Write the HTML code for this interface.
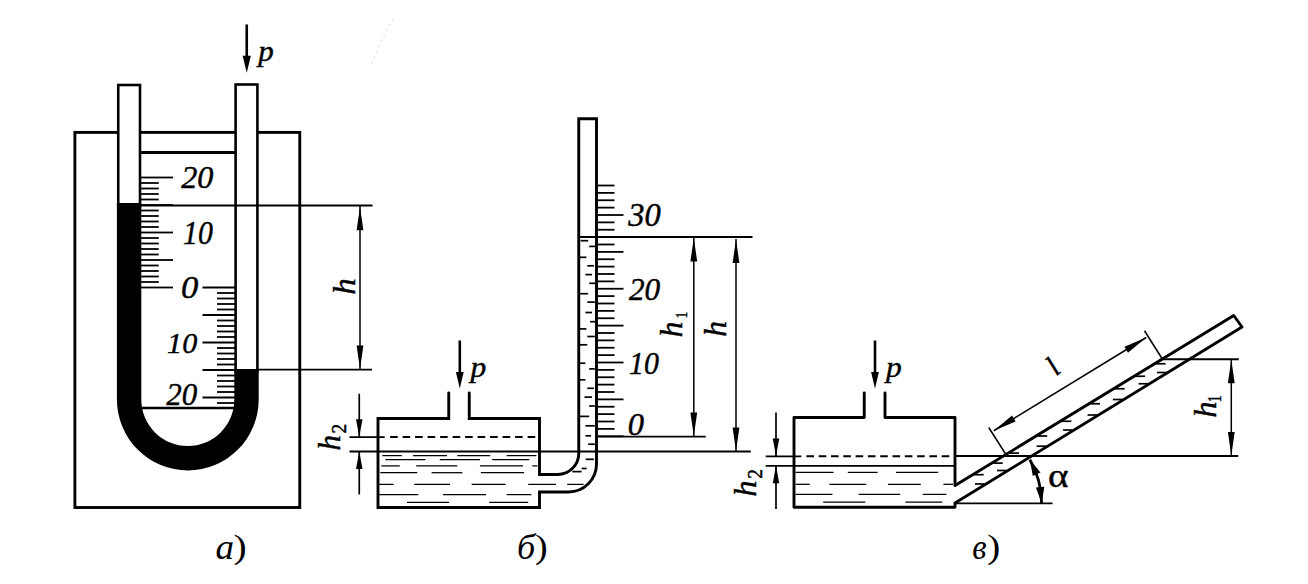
<!DOCTYPE html>
<html><head><meta charset="utf-8"><style>
html,body{margin:0;padding:0;background:#fff;}
svg{display:block;}
text{font-family:"Liberation Serif",serif;fill:#000;stroke:#000;stroke-width:0.45px;}
</style></head><body>
<svg width="1308" height="584" viewBox="0 0 1308 584" stroke="#000" fill="none">
<rect x="0" y="0" width="1308" height="584" fill="#fff" stroke="none"/>
<rect x="74.9" y="132.4" width="224.85" height="375.1" fill="none" stroke-width="2.9"/>
<line x1="141.00" y1="152.50" x2="235.00" y2="152.50" stroke-width="2.9" />
<line x1="141.00" y1="408.00" x2="234.00" y2="408.00" stroke-width="2.4" />
<line x1="141.00" y1="177.50" x2="173.00" y2="177.50" stroke-width="1.8" />
<line x1="141.00" y1="183.00" x2="158.75" y2="183.00" stroke-width="1.8" />
<line x1="141.00" y1="188.50" x2="158.75" y2="188.50" stroke-width="1.8" />
<line x1="141.00" y1="194.00" x2="158.75" y2="194.00" stroke-width="1.8" />
<line x1="141.00" y1="199.50" x2="158.75" y2="199.50" stroke-width="1.8" />
<line x1="141.00" y1="205.00" x2="173.00" y2="205.00" stroke-width="1.8" />
<line x1="141.00" y1="210.50" x2="158.75" y2="210.50" stroke-width="1.8" />
<line x1="141.00" y1="216.00" x2="158.75" y2="216.00" stroke-width="1.8" />
<line x1="141.00" y1="221.50" x2="158.75" y2="221.50" stroke-width="1.8" />
<line x1="141.00" y1="227.00" x2="158.75" y2="227.00" stroke-width="1.8" />
<line x1="141.00" y1="232.50" x2="173.00" y2="232.50" stroke-width="1.8" />
<line x1="141.00" y1="238.00" x2="158.75" y2="238.00" stroke-width="1.8" />
<line x1="141.00" y1="243.50" x2="158.75" y2="243.50" stroke-width="1.8" />
<line x1="141.00" y1="249.00" x2="158.75" y2="249.00" stroke-width="1.8" />
<line x1="141.00" y1="254.50" x2="158.75" y2="254.50" stroke-width="1.8" />
<line x1="141.00" y1="260.00" x2="173.00" y2="260.00" stroke-width="1.8" />
<line x1="141.00" y1="265.50" x2="158.75" y2="265.50" stroke-width="1.8" />
<line x1="141.00" y1="271.00" x2="158.75" y2="271.00" stroke-width="1.8" />
<line x1="141.00" y1="276.50" x2="158.75" y2="276.50" stroke-width="1.8" />
<line x1="141.00" y1="282.00" x2="158.75" y2="282.00" stroke-width="1.8" />
<line x1="141.00" y1="287.50" x2="173.00" y2="287.50" stroke-width="1.8" />
<line x1="202.50" y1="287.50" x2="236.00" y2="287.50" stroke-width="1.8" />
<line x1="217.00" y1="293.00" x2="236.00" y2="293.00" stroke-width="1.8" />
<line x1="217.00" y1="298.50" x2="236.00" y2="298.50" stroke-width="1.8" />
<line x1="217.00" y1="304.00" x2="236.00" y2="304.00" stroke-width="1.8" />
<line x1="217.00" y1="309.50" x2="236.00" y2="309.50" stroke-width="1.8" />
<line x1="202.50" y1="315.00" x2="236.00" y2="315.00" stroke-width="1.8" />
<line x1="217.00" y1="320.50" x2="236.00" y2="320.50" stroke-width="1.8" />
<line x1="217.00" y1="326.00" x2="236.00" y2="326.00" stroke-width="1.8" />
<line x1="217.00" y1="331.50" x2="236.00" y2="331.50" stroke-width="1.8" />
<line x1="217.00" y1="337.00" x2="236.00" y2="337.00" stroke-width="1.8" />
<line x1="202.50" y1="342.50" x2="236.00" y2="342.50" stroke-width="1.8" />
<line x1="217.00" y1="348.00" x2="236.00" y2="348.00" stroke-width="1.8" />
<line x1="217.00" y1="353.50" x2="236.00" y2="353.50" stroke-width="1.8" />
<line x1="217.00" y1="359.00" x2="236.00" y2="359.00" stroke-width="1.8" />
<line x1="217.00" y1="364.50" x2="236.00" y2="364.50" stroke-width="1.8" />
<line x1="202.50" y1="370.00" x2="236.00" y2="370.00" stroke-width="1.8" />
<line x1="217.00" y1="375.50" x2="236.00" y2="375.50" stroke-width="1.8" />
<line x1="217.00" y1="381.00" x2="236.00" y2="381.00" stroke-width="1.8" />
<line x1="217.00" y1="386.50" x2="236.00" y2="386.50" stroke-width="1.8" />
<line x1="217.00" y1="392.00" x2="236.00" y2="392.00" stroke-width="1.8" />
<line x1="202.50" y1="397.50" x2="236.00" y2="397.50" stroke-width="1.8" />
<line x1="217.00" y1="403.00" x2="236.00" y2="403.00" stroke-width="1.8" />
<rect x="118.25" y="85" width="21.75" height="121" fill="#fff" stroke-width="2.6"/>
<rect x="235.6" y="84.5" width="21.8" height="287" fill="#fff" stroke-width="2.6"/>
<path d="M116.9 203 L141.3 203 L141.3 399.5 A46.5 46.5 0 0 0 234.3 399.5 L234.3 369 L258.70000000000005 369 L258.70000000000005 399.5 A70.9 70.9 0 0 1 116.9 399.5 Z" fill="#000" stroke="none"/>
<line x1="141.00" y1="205.50" x2="372.50" y2="205.50" stroke-width="1.8" />
<line x1="258.00" y1="369.60" x2="372.00" y2="369.60" stroke-width="1.8" />
<line x1="360.00" y1="205.00" x2="360.00" y2="369.50" stroke-width="1.5" />
<path d="M360.00 206.80 L363.40 230.30 L356.60 230.30 Z" fill="#000" stroke="none"/>
<path d="M360.00 369.00 L356.60 345.50 L363.40 345.50 Z" fill="#000" stroke="none"/>
<line x1="246.75" y1="24.50" x2="246.75" y2="60.00" stroke-width="2.6" />
<path d="M246.75 72.80 L242.65 55.80 L250.85 55.80 Z" fill="#000" stroke="none"/>
<path d="M448.75 393 L448.75 418.5 L378 418.5 L378 507.5 L539.5 507.5 L539.5 492 L568.5 492 A28 28 0 0 0 596.5 464 L596.5 118.75 L578.75 118.75 L578.75 453.5 A21 21 0 0 1 557.75 474.5 L539.5 474.5 L539.5 418.5 L469.25 418.5 L469.25 393" fill="none" stroke-width="2.9" stroke-linejoin="miter" stroke-linecap="round"/>
<line x1="459.80" y1="340.50" x2="459.80" y2="375.00" stroke-width="2.6" />
<path d="M459.80 388.50 L455.90 372.00 L463.70 372.00 Z" fill="#000" stroke="none"/>
<line x1="349.50" y1="437.10" x2="384.70" y2="437.10" stroke-width="1.8" />
<line x1="390.10" y1="437.10" x2="535.40" y2="437.10" stroke-width="2.0" stroke-dasharray="7.6 4.9"/>
<line x1="349.50" y1="451.50" x2="750.75" y2="451.50" stroke-width="1.8" />
<line x1="359.25" y1="393.75" x2="359.25" y2="436.75" stroke-width="1.7" />
<path d="M359.25 436.75 L356.00 419.25 L362.50 419.25 Z" fill="#000" stroke="none"/>
<line x1="359.25" y1="451.50" x2="359.25" y2="494.50" stroke-width="1.7" />
<path d="M359.25 451.50 L362.50 469.00 L356.00 469.00 Z" fill="#000" stroke="none"/>
<line x1="596.50" y1="436.25" x2="623.50" y2="436.25" stroke-width="1.8" />
<line x1="596.50" y1="428.88" x2="614.50" y2="428.88" stroke-width="1.8" />
<line x1="596.50" y1="421.50" x2="614.50" y2="421.50" stroke-width="1.8" />
<line x1="596.50" y1="414.12" x2="614.50" y2="414.12" stroke-width="1.8" />
<line x1="596.50" y1="406.75" x2="614.50" y2="406.75" stroke-width="1.8" />
<line x1="596.50" y1="399.38" x2="623.50" y2="399.38" stroke-width="1.8" />
<line x1="596.50" y1="392.00" x2="614.50" y2="392.00" stroke-width="1.8" />
<line x1="596.50" y1="384.62" x2="614.50" y2="384.62" stroke-width="1.8" />
<line x1="596.50" y1="377.25" x2="614.50" y2="377.25" stroke-width="1.8" />
<line x1="596.50" y1="369.88" x2="614.50" y2="369.88" stroke-width="1.8" />
<line x1="596.50" y1="362.50" x2="623.50" y2="362.50" stroke-width="1.8" />
<line x1="596.50" y1="355.12" x2="614.50" y2="355.12" stroke-width="1.8" />
<line x1="596.50" y1="347.75" x2="614.50" y2="347.75" stroke-width="1.8" />
<line x1="596.50" y1="340.38" x2="614.50" y2="340.38" stroke-width="1.8" />
<line x1="596.50" y1="333.00" x2="614.50" y2="333.00" stroke-width="1.8" />
<line x1="596.50" y1="325.62" x2="623.50" y2="325.62" stroke-width="1.8" />
<line x1="596.50" y1="318.25" x2="614.50" y2="318.25" stroke-width="1.8" />
<line x1="596.50" y1="310.88" x2="614.50" y2="310.88" stroke-width="1.8" />
<line x1="596.50" y1="303.50" x2="614.50" y2="303.50" stroke-width="1.8" />
<line x1="596.50" y1="296.12" x2="614.50" y2="296.12" stroke-width="1.8" />
<line x1="596.50" y1="288.75" x2="623.50" y2="288.75" stroke-width="1.8" />
<line x1="596.50" y1="281.38" x2="614.50" y2="281.38" stroke-width="1.8" />
<line x1="596.50" y1="274.00" x2="614.50" y2="274.00" stroke-width="1.8" />
<line x1="596.50" y1="266.62" x2="614.50" y2="266.62" stroke-width="1.8" />
<line x1="596.50" y1="259.25" x2="614.50" y2="259.25" stroke-width="1.8" />
<line x1="596.50" y1="251.88" x2="623.50" y2="251.88" stroke-width="1.8" />
<line x1="596.50" y1="244.50" x2="614.50" y2="244.50" stroke-width="1.8" />
<line x1="596.50" y1="237.12" x2="614.50" y2="237.12" stroke-width="1.8" />
<line x1="596.50" y1="229.75" x2="614.50" y2="229.75" stroke-width="1.8" />
<line x1="596.50" y1="222.38" x2="614.50" y2="222.38" stroke-width="1.8" />
<line x1="596.50" y1="215.00" x2="623.50" y2="215.00" stroke-width="1.8" />
<line x1="596.50" y1="207.62" x2="614.50" y2="207.62" stroke-width="1.8" />
<line x1="596.50" y1="200.25" x2="614.50" y2="200.25" stroke-width="1.8" />
<line x1="596.50" y1="192.88" x2="614.50" y2="192.88" stroke-width="1.8" />
<line x1="596.50" y1="185.50" x2="614.50" y2="185.50" stroke-width="1.8" />
<line x1="578.75" y1="237.00" x2="752.50" y2="237.00" stroke-width="1.8" />
<line x1="596.50" y1="436.60" x2="705.75" y2="436.60" stroke-width="1.8" />
<line x1="693.80" y1="237.00" x2="693.80" y2="436.50" stroke-width="1.5" />
<path d="M693.80 238.00 L697.20 261.50 L690.40 261.50 Z" fill="#000" stroke="none"/>
<path d="M693.80 436.00 L690.40 412.50 L697.20 412.50 Z" fill="#000" stroke="none"/>
<line x1="736.00" y1="239.00" x2="736.00" y2="451.50" stroke-width="1.5" />
<path d="M736.00 239.50 L739.40 263.00 L732.60 263.00 Z" fill="#000" stroke="none"/>
<path d="M736.00 451.00 L732.60 427.50 L739.40 427.50 Z" fill="#000" stroke="none"/>
<path d="M864.25 393 L864.25 417.5 L794 417.5 L794 507.3 L955 507.3 L955 503 L1242 327 L1233.75 315.5 L955 485.5 L955 417.5 L885 417.5 L885 393" fill="none" stroke-width="2.9" stroke-linejoin="round" stroke-linecap="round"/>
<line x1="875.00" y1="340.50" x2="875.00" y2="375.00" stroke-width="2.6" />
<path d="M875.00 388.50 L871.10 372.00 L878.90 372.00 Z" fill="#000" stroke="none"/>
<line x1="765.70" y1="456.30" x2="801.30" y2="456.30" stroke-width="1.8" />
<line x1="806.40" y1="456.30" x2="950.00" y2="456.30" stroke-width="2.0" stroke-dasharray="7.6 4.7"/>
<line x1="955.00" y1="456.00" x2="1238.30" y2="456.00" stroke-width="1.8" />
<line x1="765.70" y1="465.90" x2="955.00" y2="465.90" stroke-width="1.8" />
<line x1="776.00" y1="412.50" x2="776.00" y2="456.00" stroke-width="1.7" />
<path d="M776.00 456.00 L772.75 438.50 L779.25 438.50 Z" fill="#000" stroke="none"/>
<line x1="776.00" y1="465.75" x2="776.00" y2="509.00" stroke-width="1.7" />
<path d="M776.00 465.75 L779.25 483.25 L772.75 483.25 Z" fill="#000" stroke="none"/>
<line x1="1162.50" y1="359.25" x2="1238.75" y2="359.25" stroke-width="1.8" />
<line x1="1231.30" y1="359.25" x2="1231.30" y2="456.00" stroke-width="1.5" />
<path d="M1231.30 359.75 L1234.70 383.25 L1227.90 383.25 Z" fill="#000" stroke="none"/>
<path d="M1231.30 455.50 L1227.90 432.00 L1234.70 432.00 Z" fill="#000" stroke="none"/>
<line x1="988.75" y1="427.50" x2="1006.25" y2="455.00" stroke-width="1.5" />
<line x1="1144.50" y1="330.75" x2="1162.00" y2="358.50" stroke-width="1.5" />
<line x1="993.75" y1="430.75" x2="1146.25" y2="337.50" stroke-width="1.5" />
<path d="M993.75 430.75 L1012.03 415.59 L1015.57 421.39 Z" fill="#000" stroke="none"/>
<path d="M1146.25 337.50 L1127.97 352.66 L1124.43 346.86 Z" fill="#000" stroke="none"/>
<line x1="955.00" y1="503.40" x2="1052.50" y2="503.40" stroke-width="1.8" />
<path d="M1029.90 459.75 A87.3 87.3 0 0 1 1041.60 503.40" fill="none" stroke-width="2.8"/>
<line x1="382.30" y1="455.60" x2="401.80" y2="455.60" stroke-width="1.25" />
<line x1="413.10" y1="455.60" x2="447.00" y2="455.60" stroke-width="1.25" />
<line x1="457.30" y1="455.60" x2="490.20" y2="455.60" stroke-width="1.25" />
<line x1="506.60" y1="455.60" x2="536.40" y2="455.60" stroke-width="1.25" />
<line x1="385.40" y1="459.70" x2="425.50" y2="459.70" stroke-width="1.25" />
<line x1="439.80" y1="459.70" x2="479.90" y2="459.70" stroke-width="1.25" />
<line x1="492.20" y1="459.70" x2="529.20" y2="459.70" stroke-width="1.25" />
<line x1="381.30" y1="465.90" x2="399.80" y2="465.90" stroke-width="1.25" />
<line x1="416.20" y1="465.90" x2="457.30" y2="465.90" stroke-width="1.25" />
<line x1="479.90" y1="465.90" x2="523.00" y2="465.90" stroke-width="1.25" />
<line x1="532.30" y1="465.90" x2="537.40" y2="465.90" stroke-width="1.25" />
<line x1="380.30" y1="472.70" x2="417.20" y2="472.70" stroke-width="1.25" />
<line x1="431.60" y1="472.70" x2="462.40" y2="472.70" stroke-width="1.25" />
<line x1="480.90" y1="472.70" x2="524.10" y2="472.70" stroke-width="1.25" />
<line x1="379.20" y1="484.40" x2="393.60" y2="484.40" stroke-width="1.25" />
<line x1="414.20" y1="484.40" x2="450.10" y2="484.40" stroke-width="1.25" />
<line x1="471.70" y1="484.40" x2="505.60" y2="484.40" stroke-width="1.25" />
<line x1="528.20" y1="484.40" x2="555.90" y2="484.40" stroke-width="1.25" />
<line x1="567.20" y1="484.40" x2="583.60" y2="484.40" stroke-width="1.25" />
<line x1="379.20" y1="494.60" x2="418.30" y2="494.60" stroke-width="1.25" />
<line x1="442.90" y1="494.60" x2="486.10" y2="494.60" stroke-width="1.25" />
<line x1="506.60" y1="494.60" x2="531.30" y2="494.60" stroke-width="1.25" />
<line x1="407.00" y1="502.40" x2="449.10" y2="502.40" stroke-width="1.25" />
<line x1="489.10" y1="502.40" x2="528.20" y2="502.40" stroke-width="1.25" />
<line x1="580.70" y1="240.70" x2="588.20" y2="240.70" stroke-width="1.7" />
<line x1="589.20" y1="246.40" x2="595.00" y2="246.40" stroke-width="1.7" />
<line x1="579.80" y1="257.30" x2="586.40" y2="257.30" stroke-width="1.7" />
<line x1="587.30" y1="265.80" x2="593.90" y2="265.80" stroke-width="1.7" />
<line x1="585.40" y1="274.60" x2="592.00" y2="274.60" stroke-width="1.7" />
<line x1="589.20" y1="283.30" x2="595.00" y2="283.30" stroke-width="1.7" />
<line x1="579.80" y1="293.70" x2="588.20" y2="293.70" stroke-width="1.7" />
<line x1="587.30" y1="302.10" x2="594.80" y2="302.10" stroke-width="1.7" />
<line x1="585.40" y1="312.50" x2="592.00" y2="312.50" stroke-width="1.7" />
<line x1="590.10" y1="321.70" x2="595.00" y2="321.70" stroke-width="1.7" />
<line x1="579.80" y1="328.90" x2="586.40" y2="328.90" stroke-width="1.7" />
<line x1="587.30" y1="336.50" x2="594.80" y2="336.50" stroke-width="1.7" />
<line x1="579.80" y1="344.80" x2="587.30" y2="344.80" stroke-width="1.7" />
<line x1="578.80" y1="363.20" x2="585.40" y2="363.20" stroke-width="1.7" />
<line x1="589.20" y1="368.90" x2="594.80" y2="368.90" stroke-width="1.7" />
<line x1="578.80" y1="379.80" x2="585.40" y2="379.80" stroke-width="1.7" />
<line x1="587.30" y1="388.30" x2="593.90" y2="388.30" stroke-width="1.7" />
<line x1="584.50" y1="397.10" x2="592.00" y2="397.10" stroke-width="1.7" />
<line x1="589.20" y1="406.00" x2="594.80" y2="406.00" stroke-width="1.7" />
<line x1="578.80" y1="416.40" x2="589.20" y2="416.40" stroke-width="1.7" />
<line x1="585.40" y1="425.80" x2="594.80" y2="425.80" stroke-width="1.7" />
<line x1="585.40" y1="435.80" x2="591.10" y2="435.80" stroke-width="1.7" />
<line x1="588.20" y1="444.20" x2="594.80" y2="444.20" stroke-width="1.7" />
<line x1="585.70" y1="459.30" x2="593.90" y2="459.30" stroke-width="1.7" />
<line x1="572.30" y1="471.60" x2="581.60" y2="471.60" stroke-width="1.7" />
<line x1="581.60" y1="468.50" x2="586.70" y2="468.50" stroke-width="1.7" />
<line x1="795.50" y1="472.40" x2="833.50" y2="472.40" stroke-width="1.25" />
<line x1="847.80" y1="472.40" x2="877.60" y2="472.40" stroke-width="1.25" />
<line x1="896.10" y1="472.40" x2="938.20" y2="472.40" stroke-width="1.25" />
<line x1="795.50" y1="484.30" x2="809.80" y2="484.30" stroke-width="1.25" />
<line x1="829.40" y1="484.30" x2="866.30" y2="484.30" stroke-width="1.25" />
<line x1="887.90" y1="484.30" x2="920.80" y2="484.30" stroke-width="1.25" />
<line x1="943.40" y1="484.30" x2="953.00" y2="484.30" stroke-width="1.25" />
<line x1="795.50" y1="494.40" x2="832.40" y2="494.40" stroke-width="1.25" />
<line x1="858.70" y1="494.40" x2="900.20" y2="494.40" stroke-width="1.25" />
<line x1="922.80" y1="494.40" x2="946.40" y2="494.40" stroke-width="1.25" />
<line x1="823.20" y1="502.20" x2="865.30" y2="502.20" stroke-width="1.25" />
<line x1="905.40" y1="502.20" x2="942.30" y2="502.20" stroke-width="1.25" />
<line x1="1156.09" y1="363.75" x2="1165.59" y2="363.75" stroke-width="1.7" />
<line x1="1135.60" y1="376.25" x2="1145.10" y2="376.25" stroke-width="1.7" />
<line x1="1115.11" y1="388.75" x2="1124.61" y2="388.75" stroke-width="1.7" />
<line x1="1090.52" y1="403.75" x2="1100.02" y2="403.75" stroke-width="1.7" />
<line x1="1061.83" y1="421.25" x2="1071.33" y2="421.25" stroke-width="1.7" />
<line x1="1037.65" y1="436.00" x2="1047.15" y2="436.00" stroke-width="1.7" />
<line x1="1009.61" y1="453.10" x2="1019.11" y2="453.10" stroke-width="1.7" />
<line x1="993.22" y1="463.10" x2="1002.72" y2="463.10" stroke-width="1.7" />
<line x1="974.20" y1="474.70" x2="983.70" y2="474.70" stroke-width="1.7" />
<line x1="1156.89" y1="372.50" x2="1166.39" y2="372.50" stroke-width="1.7" />
<line x1="1138.54" y1="383.75" x2="1148.04" y2="383.75" stroke-width="1.7" />
<line x1="1112.84" y1="399.50" x2="1122.34" y2="399.50" stroke-width="1.7" />
<line x1="1087.56" y1="415.00" x2="1097.06" y2="415.00" stroke-width="1.7" />
<line x1="1063.09" y1="430.00" x2="1072.59" y2="430.00" stroke-width="1.7" />
<line x1="1036.66" y1="446.20" x2="1046.16" y2="446.20" stroke-width="1.7" />
<line x1="997.02" y1="470.50" x2="1006.52" y2="470.50" stroke-width="1.7" />
<line x1="975.00" y1="484.00" x2="984.50" y2="484.00" stroke-width="1.7" />
<path d="M1029.90 459.75 L1040.52 472.45 L1032.81 476.05 Z" fill="#000" stroke="none"/>
<path d="M1041.60 502.94 L1035.93 487.39 L1044.40 486.63 Z" fill="#000" stroke="none"/>
<path d="M372 63.8 Q380 40 395.7 15.5" fill="none" stroke="#d6d6d6" stroke-width="1" stroke-dasharray="2 4"/>
<text transform="translate(258.16,60.75) rotate(0) scale(0.9824,0.9364)" font-size="31.5" style="font-style:italic;">p</text>
<text transform="translate(181.24,188.31) rotate(0) scale(0.9758,0.9802)" font-size="33" style="font-style:italic;">20</text>
<text transform="translate(183.10,243.60) rotate(0) scale(0.9039,0.9934)" font-size="33" style="font-style:italic;">10</text>
<text transform="translate(181.05,297.54) rotate(0) scale(1.0492,0.9275)" font-size="33" style="font-style:italic;">0</text>
<text transform="translate(167.09,353.04) rotate(0) scale(0.9134,0.9231)" font-size="33" style="font-style:italic;">10</text>
<text transform="translate(166.23,404.72) rotate(0) scale(0.9394,0.9538)" font-size="33" style="font-style:italic;">20</text>
<text transform="translate(354.55,294.83) rotate(-90) scale(1.0286,0.9934)" font-size="32" style="font-style:italic;">h</text>
<text transform="translate(470.50,376.75) rotate(0) scale(1.0000,0.9364)" font-size="31.5" style="font-style:italic;">p</text>
<text transform="translate(339.75,450.57) rotate(-90) scale(0.9714,0.9802)" font-size="32" style="font-style:italic;">h</text>
<text transform="translate(345.84,433.39) rotate(-90) scale(0.9257,1.0316)" font-size="21" style="">2</text>
<text transform="translate(628.25,225.80) rotate(0) scale(0.9848,0.9978)" font-size="33" style="font-style:italic;">30</text>
<text transform="translate(628.99,299.52) rotate(0) scale(0.9470,0.9582)" font-size="33" style="font-style:italic;">20</text>
<text transform="translate(629.09,373.52) rotate(0) scale(0.9055,0.9582)" font-size="33" style="font-style:italic;">10</text>
<text transform="translate(627.77,435.33) rotate(0) scale(0.9836,0.9363)" font-size="33" style="font-style:italic;">0</text>
<text transform="translate(681.95,337.59) rotate(-90) scale(0.9929,1.0110)" font-size="32" style="font-style:italic;">h</text>
<text transform="translate(687.05,318.60) rotate(-90) scale(0.6572,0.8365)" font-size="21" style="">1</text>
<text transform="translate(726.15,336.79) rotate(-90) scale(0.9857,1.0066)" font-size="32" style="font-style:italic;">h</text>
<text transform="translate(886.00,376.59) rotate(0) scale(1.0000,0.9591)" font-size="31.5" style="font-style:italic;">p</text>
<text transform="translate(756.45,496.72) rotate(-90) scale(1.0214,1.0022)" font-size="32" style="font-style:italic;">h</text>
<text transform="translate(762.35,478.69) rotate(-90) scale(0.9257,1.0035)" font-size="21" style="">2</text>
<text transform="translate(1216.26,417.82) rotate(-90) scale(1.0214,0.9626)" font-size="32" style="font-style:italic;">h</text>
<text transform="translate(1221.49,402.30) rotate(-90) scale(0.6670,0.8489)" font-size="21" style="">1</text>
<text transform="translate(1056.34,376.59) rotate(-42) scale(0.9067,0.9067)" font-size="32" style="font-style:italic;">l</text>
<text transform="translate(1047.94,487.04) rotate(0) scale(1.0882,0.9296)" font-size="36" style="">α</text>
<text transform="translate(215.57,558.64) rotate(0) scale(1.0323,1.0203)" font-size="36" style="font-style:italic;stroke:none;">а</text>
<text transform="translate(233.46,557.75) rotate(0) scale(1.1444,1.0000)" font-size="34.5" style="stroke:none;">)</text>
<text transform="translate(517.09,558.65) rotate(0) scale(1.0057,0.9846)" font-size="36" style="font-style:italic;stroke:none;">б</text>
<text transform="translate(535.10,557.75) rotate(0) scale(1.1000,1.0000)" font-size="34.5" style="stroke:none;">)</text>
<text transform="translate(972.19,558.65) rotate(0) scale(0.9143,1.0029)" font-size="36" style="font-style:italic;stroke:none;">в</text>
<text transform="translate(987.27,557.75) rotate(0) scale(1.1333,1.0000)" font-size="34.5" style="stroke:none;">)</text>
</svg></body></html>
